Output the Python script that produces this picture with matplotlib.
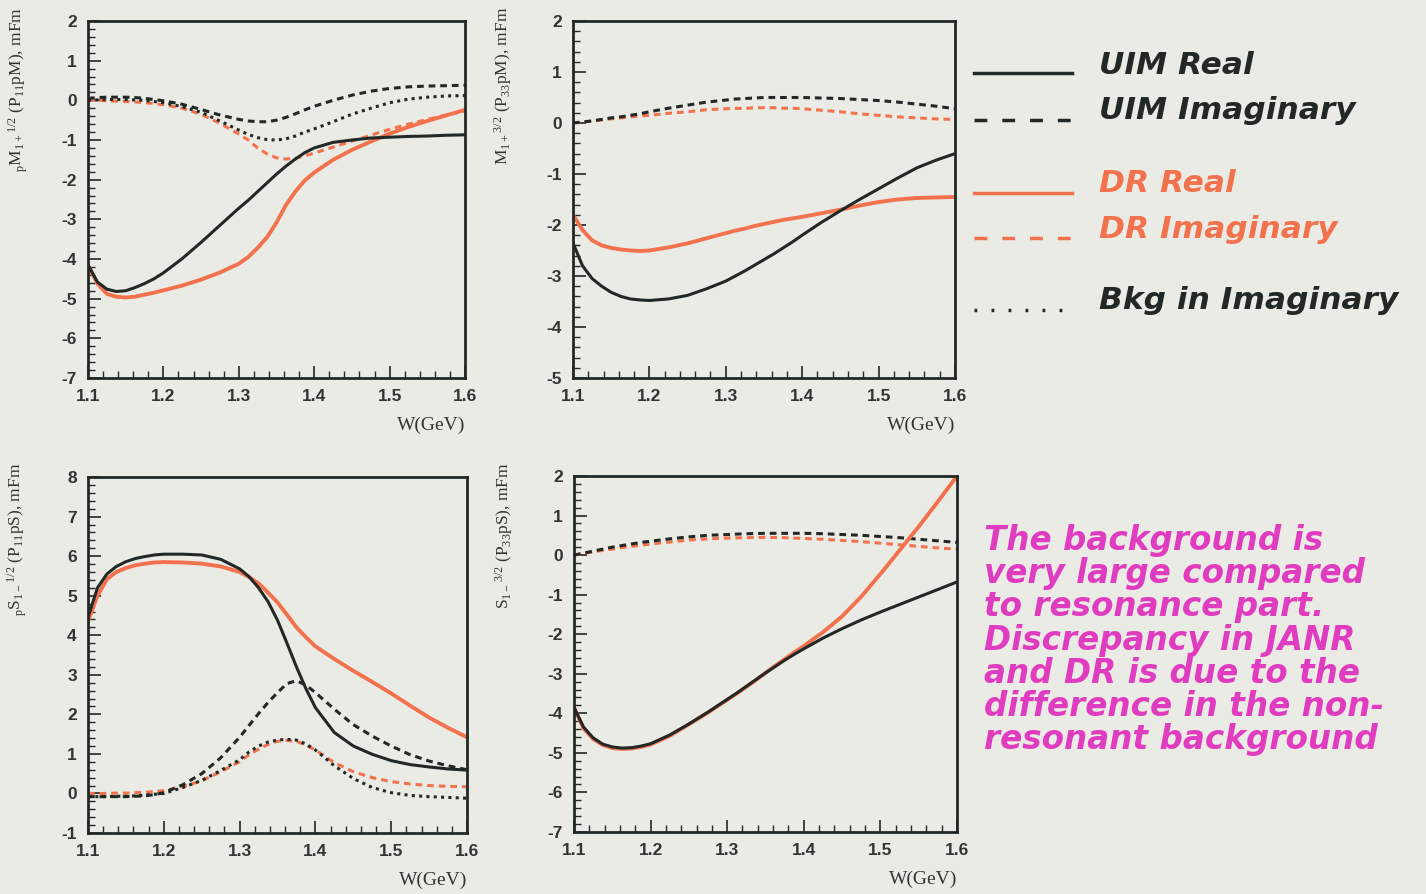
import matplotlib
matplotlib.use("Agg")
import matplotlib.pyplot as plt
from matplotlib.lines import Line2D
from matplotlib.ticker import MultipleLocator

# W grid (GeV) shared by all curves
W = [1.1, 1.1125, 1.125, 1.1375, 1.15, 1.1625, 1.175, 1.1875, 1.2, 1.225, 1.25, 1.275,
     1.3, 1.3125, 1.325, 1.3375, 1.35, 1.3625, 1.375, 1.3875, 1.4, 1.425, 1.45, 1.475,
     1.5, 1.525, 1.55, 1.575, 1.6]

# pM 1/2 (P11)
m12_uim_re = [-4.15, -4.58, -4.76, -4.82, -4.80, -4.72, -4.62, -4.50, -4.35, -3.99, -3.58, -3.15,
              -2.72, -2.52, -2.30, -2.08, -1.86, -1.66, -1.48, -1.32, -1.20, -1.06, -1.00, -0.95,
              -0.93, -0.91, -0.90, -0.88, -0.87]
m12_dr_re = [-4.15, -4.62, -4.88, -4.95, -4.97, -4.95, -4.90, -4.85, -4.79, -4.67, -4.52, -4.34,
             -4.12, -3.95, -3.72, -3.45, -3.08, -2.64, -2.30, -2.02, -1.82, -1.50, -1.25, -1.04,
             -0.84, -0.67, -0.52, -0.38, -0.24]
m12_uim_im = [0.05, 0.07, 0.08, 0.08, 0.08, 0.07, 0.05, 0.02, -0.01, -0.10, -0.23, -0.37,
              -0.48, -0.52, -0.54, -0.54, -0.50, -0.43, -0.34, -0.24, -0.15, 0.00, 0.13, 0.23,
              0.30, 0.34, 0.36, 0.37, 0.38]
m12_bkg = [0.00, 0.01, 0.02, 0.02, 0.02, 0.01, 0.00, -0.03, -0.06, -0.16, -0.30, -0.52,
           -0.75, -0.86, -0.94, -0.99, -1.00, -0.97, -0.90, -0.80, -0.72, -0.54, -0.35, -0.20,
           -0.06, 0.03, 0.08, 0.11, 0.12]
m12_dr_im = [0.00, 0.00, -0.01, -0.02, -0.03, -0.04, -0.06, -0.08, -0.11, -0.20, -0.35, -0.58,
             -0.85, -1.00, -1.20, -1.35, -1.45, -1.48, -1.46, -1.40, -1.33, -1.18, -1.03, -0.88,
             -0.73, -0.60, -0.48, -0.37, -0.27]

# pM 3/2 (P33)
m32_uim_re = [-2.35, -2.80, -3.05, -3.20, -3.32, -3.40, -3.45, -3.47, -3.48, -3.45, -3.38, -3.25,
              -3.10, -3.00, -2.90, -2.79, -2.68, -2.57, -2.45, -2.33, -2.20, -1.95, -1.72, -1.50,
              -1.29, -1.08, -0.88, -0.73, -0.60]
m32_dr_re = [-1.80, -2.10, -2.30, -2.40, -2.45, -2.48, -2.50, -2.51, -2.50, -2.44, -2.36, -2.26,
             -2.16, -2.11, -2.07, -2.02, -1.98, -1.94, -1.90, -1.87, -1.84, -1.77, -1.70, -1.62,
             -1.55, -1.50, -1.47, -1.46, -1.45]
m32_uim_im = [0.00, 0.02, 0.04, 0.07, 0.10, 0.12, 0.15, 0.18, 0.22, 0.29, 0.35, 0.41,
              0.45, 0.47, 0.48, 0.49, 0.50, 0.50, 0.50, 0.50, 0.50, 0.49, 0.48, 0.46,
              0.44, 0.41, 0.37, 0.33, 0.28]
m32_dr_im = [0.00, 0.02, 0.04, 0.06, 0.08, 0.10, 0.12, 0.14, 0.15, 0.19, 0.22, 0.26,
             0.28, 0.285, 0.29, 0.295, 0.30, 0.30, 0.29, 0.29, 0.28, 0.25, 0.22, 0.18,
             0.15, 0.12, 0.10, 0.08, 0.07]

# pS 1/2 (P11)
s12_uim_re = [4.45, 5.20, 5.55, 5.74, 5.86, 5.94, 5.99, 6.03, 6.05, 6.05, 6.03, 5.92,
              5.68, 5.48, 5.20, 4.85, 4.38, 3.80, 3.20, 2.65, 2.17, 1.54, 1.20, 0.99,
              0.83, 0.73, 0.67, 0.62, 0.59]
s12_dr_re = [4.35, 5.00, 5.42, 5.60, 5.70, 5.77, 5.81, 5.84, 5.85, 5.84, 5.81, 5.74,
             5.60, 5.47, 5.31, 5.08, 4.83, 4.52, 4.20, 3.95, 3.72, 3.40, 3.10, 2.82,
             2.53, 2.22, 1.92, 1.66, 1.42]
s12_uim_im = [-0.08, -0.08, -0.08, -0.08, -0.08, -0.07, -0.06, -0.03, 0.02, 0.22, 0.50, 0.90,
              1.42, 1.72, 2.02, 2.30, 2.55, 2.78, 2.85, 2.74, 2.55, 2.13, 1.74, 1.45,
              1.20, 0.98, 0.82, 0.70, 0.60]
s12_bkg = [-0.08, -0.08, -0.08, -0.07, -0.07, -0.06, -0.04, -0.02, 0.00, 0.15, 0.33, 0.58,
           0.85, 1.05, 1.20, 1.30, 1.35, 1.37, 1.35, 1.25, 1.10, 0.70, 0.38, 0.15,
           0.02, -0.05, -0.08, -0.10, -0.12]
s12_dr_im = [0.00, 0.00, 0.00, 0.01, 0.01, 0.02, 0.03, 0.05, 0.07, 0.17, 0.32, 0.55,
             0.80, 0.98, 1.12, 1.24, 1.32, 1.34, 1.32, 1.22, 1.10, 0.78, 0.55, 0.40,
             0.30, 0.24, 0.20, 0.18, 0.17]

# pS 3/2 (P33)
s32_uim_re = [-3.85, -4.35, -4.62, -4.78, -4.85, -4.88, -4.87, -4.83, -4.77, -4.55, -4.27, -3.97,
              -3.65, -3.49, -3.32, -3.15, -2.98, -2.82, -2.66, -2.51, -2.37, -2.10, -1.86, -1.64,
              -1.44, -1.25, -1.06, -0.87, -0.68]
s32_dr_re = [-3.85, -4.38, -4.65, -4.80, -4.88, -4.90, -4.89, -4.85, -4.79, -4.57, -4.28, -3.98,
             -3.66, -3.50, -3.33, -3.16, -2.98, -2.80, -2.63, -2.46, -2.30, -1.95, -1.55, -1.05,
             -0.48, 0.12, 0.72, 1.35, 2.00]
s32_uim_im = [0.00, 0.05, 0.10, 0.15, 0.20, 0.24, 0.28, 0.32, 0.35, 0.41, 0.46, 0.50,
              0.52, 0.53, 0.54, 0.545, 0.55, 0.55, 0.55, 0.55, 0.55, 0.54, 0.52, 0.50,
              0.47, 0.44, 0.40, 0.36, 0.32]
s32_dr_im = [0.00, 0.04, 0.08, 0.12, 0.15, 0.19, 0.22, 0.25, 0.28, 0.33, 0.38, 0.41,
             0.43, 0.435, 0.44, 0.445, 0.45, 0.445, 0.44, 0.43, 0.42, 0.40, 0.37, 0.34,
             0.30, 0.26, 0.22, 0.18, 0.15]

ylabels = [r"$_p$M$_{1+}$$^{1/2}$ (P$_{11}$pM), mFm",
           r"M$_{1+}$$^{3/2}$ (P$_{33}$pM), mFm",
           r"$_p$S$_{1-}$$^{1/2}$ (P$_{11}$pS), mFm",
           r"S$_{1-}$$^{3/2}$ (P$_{33}$pS), mFm"]
ylims = [(-7, 2), (-5, 2), (-1, 8), (-7, 2)]

legend_labels = ["UIM Real", "UIM Imaginary", "DR Real", "DR Imaginary", "Bkg in Imaginary"]
note = ("The background is\nvery large compared\nto resonance part.\n"
        "Discrepancy in JANR\nand DR is due to the\ndifference in the non-\n"
        "resonant background")

BG = "#ebebe5"
BLACK = "#222826"
ORANGE = "#f2724e"
MAGENTA = "#e03cc0"
LW = 2.2

plt.rcParams["axes.unicode_minus"] = False
plt.rcParams["mathtext.fontset"] = "custom"
plt.rcParams["mathtext.rm"] = "Liberation Serif"
plt.rcParams["mathtext.it"] = "Liberation Serif"

fig = plt.figure(figsize=(14.26, 8.94), dpi=100, facecolor=BG)

boxes = [[0.0617, 0.5772, 0.2644, 0.3993],
         [0.4018, 0.5772, 0.2679, 0.3993],
         [0.0617, 0.0682, 0.2658, 0.3982],
         [0.4025, 0.0694, 0.2686, 0.3982]]

series = [
    (m12_uim_re, m12_uim_im, m12_dr_re, m12_dr_im, m12_bkg),
    (m32_uim_re, m32_uim_im, m32_dr_re, m32_dr_im, None),
    (s12_uim_re, s12_uim_im, s12_dr_re, s12_dr_im, s12_bkg),
    (s32_uim_re, s32_uim_im, s32_dr_re, s32_dr_im, None),
]

dash = (0, (2.2, 1.6))
dot = (0, (1.0, 1.4))

for box, (ure, uim, dre, dim, bkg), ylab, ylim in zip(boxes, series, ylabels, ylims):
    ax = fig.add_axes(box, facecolor=BG)
    ax.plot(W, dim, color=ORANGE, lw=LW, linestyle=dash)
    if bkg is not None:
        ax.plot(W, bkg, color=BLACK, lw=LW, linestyle=dot)
    ax.plot(W, uim, color=BLACK, lw=LW, linestyle=dash)
    ax.plot(W, dre, color=ORANGE, lw=LW + 0.6, solid_joinstyle="round")
    ax.plot(W, ure, color=BLACK, lw=LW, solid_joinstyle="round")
    ax.set_xlim(1.1, 1.6)
    ax.set_ylim(*ylim)
    ax.xaxis.set_major_locator(MultipleLocator(0.1))
    ax.xaxis.set_minor_locator(MultipleLocator(0.02))
    ax.yaxis.set_major_locator(MultipleLocator(1))
    ax.yaxis.set_minor_locator(MultipleLocator(0.2))
    ax.tick_params(which="both", direction="in", colors=BLACK, top=False, right=False)
    ax.tick_params(which="major", length=9, width=1.2, pad=8)
    ax.tick_params(which="minor", length=5, width=1.0)
    for lab in ax.get_xticklabels() + ax.get_yticklabels():
        lab.set_fontfamily("Liberation Sans")
        lab.set_fontweight("bold")
        lab.set_fontsize(12.5)
        lab.set_color("#333333")
    for s in ax.spines.values():
        s.set_linewidth(2.0)
        s.set_color(BLACK)
    ax.set_xlabel("W(GeV)", family="Liberation Serif", fontsize=14, color="#333333",
                  loc="right", labelpad=9)
    ax.set_ylabel(ylab, family="Liberation Serif", fontsize=12.5, color="#333333", loc="top")
    ax.yaxis.set_label_coords(-0.155, 1.04)

# legend drawn at the right of the top row
leg_text_y = [0.927, 0.876, 0.795, 0.743, 0.664]
leg_line_y = [0.918, 0.866, 0.784, 0.734, 0.653]
leg_style = [(BLACK, "-"), (BLACK, (0, (3.7, 4.3))), (ORANGE, "-"), (ORANGE, (0, (3.7, 4.3))),
             (BLACK, (0, (0.8, 4.1)))]
leg_color = [BLACK, BLACK, ORANGE, ORANGE, BLACK]
for ty, ly, (c, ls), tc, txt in zip(leg_text_y, leg_line_y, leg_style, leg_color, legend_labels):
    fig.add_artist(Line2D([0.683, 0.752], [ly, ly], color=c, lw=2.5,
                          linestyle=ls, transform=fig.transFigure))
    fig.text(0.771, ty, txt, family="DejaVu Sans", style="italic", weight="bold",
             fontsize=22.5, color=tc, va="center", ha="left")

fig.text(0.690, 0.414, note, family="DejaVu Sans", style="italic", weight="bold",
         fontsize=23.5, color=MAGENTA, va="top", ha="left", linespacing=1.01)

fig.savefig("out.png", dpi=100, facecolor=BG)
